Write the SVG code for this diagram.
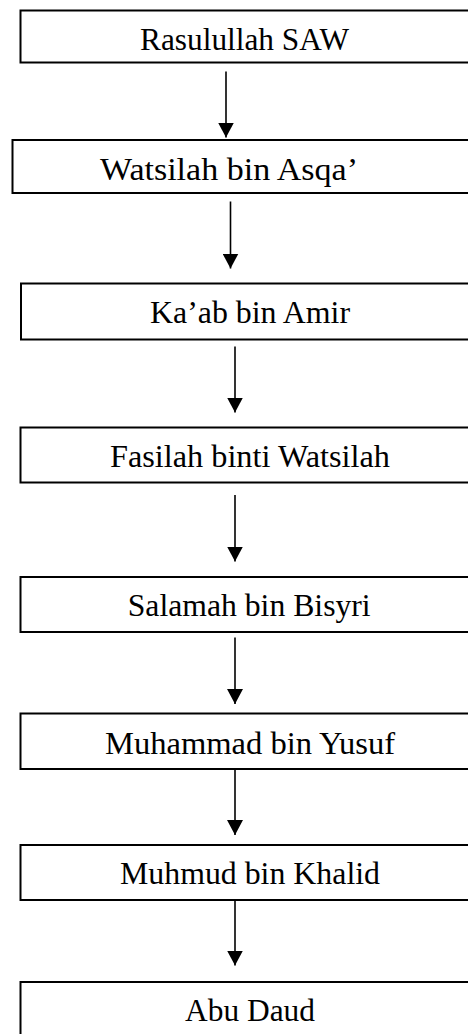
<svg xmlns="http://www.w3.org/2000/svg" width="468" height="1034" viewBox="0 0 468 1034">
  <style>
    .box { fill: #ffffff; stroke: #000000; stroke-width: 2; }
    .label { font-family: "Liberation Serif", "Times New Roman", serif; font-size: 31px; fill: #000000; }
    .link { stroke: #000000; stroke-width: 1.6; fill: none; }
  </style>
  <defs>
    <marker id="arrowhead" markerUnits="userSpaceOnUse" markerWidth="16" markerHeight="16" refX="15" refY="8" orient="auto">
      <path d="M0,0 L15,8 L0,16 Z" fill="#000000"/>
    </marker>
  </defs>
  <rect width="468" height="1034" fill="#ffffff"/>

  <!-- chain of narrators -->
  <g id="node-rasulullah">
    <rect class="box" x="20.5" y="10.5" width="470" height="52"/>
    <text class="label" x="140" y="50" textLength="209" lengthAdjust="spacingAndGlyphs">Rasulullah SAW</text>
  </g>
  <g id="node-watsilah">
    <rect class="box" x="12.5" y="140" width="480" height="53"/>
    <text class="label" x="100" y="180" textLength="258" lengthAdjust="spacingAndGlyphs">Watsilah bin Asqa’</text>
  </g>
  <g id="node-kaab">
    <rect class="box" x="21" y="283.5" width="470" height="56"/>
    <text class="label" x="150" y="323.3" textLength="200" lengthAdjust="spacingAndGlyphs">Ka’ab bin Amir</text>
  </g>
  <g id="node-fasilah">
    <rect class="box" x="20.5" y="427.5" width="470" height="55"/>
    <text class="label" x="110" y="467.3" textLength="280" lengthAdjust="spacingAndGlyphs">Fasilah binti Watsilah</text>
  </g>
  <g id="node-salamah">
    <rect class="box" x="20.5" y="577" width="470" height="55"/>
    <text class="label" x="127.7" y="616" textLength="243" lengthAdjust="spacingAndGlyphs">Salamah bin Bisyri</text>
  </g>
  <g id="node-muhammad">
    <rect class="box" x="20.5" y="713.5" width="470" height="55.5"/>
    <text class="label" x="105" y="754" textLength="290" lengthAdjust="spacingAndGlyphs">Muhammad bin Yusuf</text>
  </g>
  <g id="node-muhmud">
    <rect class="box" x="20.5" y="845" width="470" height="55"/>
    <text class="label" x="120" y="884" textLength="260" lengthAdjust="spacingAndGlyphs">Muhmud bin Khalid</text>
  </g>
  <g id="node-abudaud">
    <rect class="box" x="20.5" y="982" width="470" height="80"/>
    <text class="label" x="185" y="1020.7" textLength="130" lengthAdjust="spacingAndGlyphs">Abu Daud</text>
  </g>

  <g id="connectors">
    <line class="link" x1="226" y1="71.5" x2="226" y2="137.5" marker-end="url(#arrowhead)"/>
    <line class="link" x1="230.5" y1="201.5" x2="230.5" y2="268.5" marker-end="url(#arrowhead)"/>
    <line class="link" x1="235" y1="346.5" x2="235" y2="412.5" marker-end="url(#arrowhead)"/>
    <line class="link" x1="235" y1="495" x2="235" y2="561.5" marker-end="url(#arrowhead)"/>
    <line class="link" x1="235" y1="637.5" x2="235" y2="704" marker-end="url(#arrowhead)"/>
    <line class="link" x1="235" y1="769" x2="235" y2="835" marker-end="url(#arrowhead)"/>
    <line class="link" x1="235" y1="900" x2="235" y2="965.5" marker-end="url(#arrowhead)"/>
  </g>
</svg>
